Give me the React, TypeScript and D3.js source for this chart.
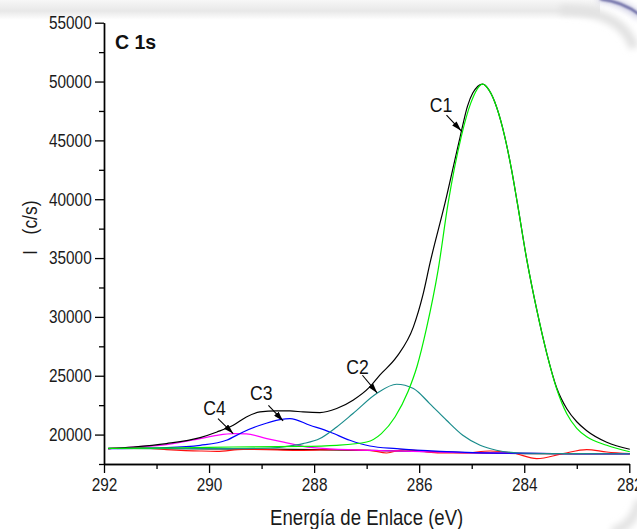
import React, { useEffect, useRef } from 'react';
import * as d3 from 'd3';

const W = 637;
const H = 529;

// Axis ticks
const xMajor = [292, 290, 288, 286, 284, 282];
const xMinor = [291, 289, 287, 285, 283];
const yMajor = [20000, 25000, 30000, 35000, 40000, 45000, 50000, 55000];
const yMinor = [17500, 22500, 27500, 32500, 37500, 42500, 47500, 52500];

// Envelope (black)
const envEV = [291.92, 291.44, 290.81, 290.17, 289.85, 289.54, 289.29, 289.03, 288.72, 288.46, 288.21, 287.89, 287.57, 287.26, 286.94, 286.75, 286.43, 286.11, 285.93, 285.79, 285.51, 285.22, 285.08, 284.98, 284.79, 284.67, 284.37, 284.24, 284.13, 283.95, 283.76, 283.57, 283.38, 283.19, 283.0, 282.81, 282.43, 281.99];
const envI = [18810, 18946, 19235, 19745, 20221, 20791, 21497, 21922, 22007, 22007, 21922, 21871, 22211, 22917, 24047, 25049, 26598, 29149, 31845, 34651, 39642, 45305, 47916, 49021, 49786, 49277, 45305, 42473, 39642, 34821, 30569, 26887, 23937, 22194, 21088, 20323, 19345, 18750];

// C1 (green)
const c1EV = [291.92, 290.5, 289.54, 288.27, 287.57, 287.0, 286.72, 286.46, 286.21, 286.04, 285.86, 285.64, 285.45, 285.2, 285.02, 284.79, 284.67, 284.37, 284.24, 284.13, 283.95, 283.76, 283.57, 283.38, 283.19, 283.0, 282.81, 282.43, 281.99];
const c1I = [18835, 18880, 18946, 18990, 19090, 19371, 20085, 21497, 23682, 25807, 29039, 33970, 39642, 45305, 48145, 49786, 49277, 45305, 42473, 39642, 34821, 30569, 26887, 23852, 21769, 20536, 19813, 19090, 18537];

// C2 (teal)
const c2EV = [291.92, 289.5, 288.84, 288.52, 288.21, 287.89, 287.57, 287.26, 286.81, 286.43, 286.11, 285.8, 285.48, 285.17, 284.84, 284.53, 284.08, 283.0, 281.99];
const c2I = [18830, 18800, 18860, 19005, 19235, 19660, 20646, 21786, 23486, 24277, 23911, 22636, 21216, 19940, 19090, 18665, 18435, 18375, 18370];

// C3 (blue)
const c3EV = [291.92, 290.81, 290.17, 289.67, 289.35, 289.03, 288.65, 288.46, 288.08, 287.7, 287.32, 286.94, 286.43, 285.6, 284.5, 283.0, 281.99];
const c3I = [18810, 18895, 19090, 19515, 20221, 20791, 21275, 21360, 20791, 20221, 19515, 19031, 18810, 18580, 18430, 18370, 18370];

// C4 (magenta)
const c4EV = [291.92, 291.44, 290.81, 290.17, 289.85, 289.54, 289.29, 288.9, 288.65, 288.52, 288.21, 287.7, 286.5, 285.0, 283.0, 281.99];
const c4I = [18810, 18946, 19150, 19660, 19940, 20085, 20068, 19660, 19420, 19300, 19005, 18793, 18620, 18450, 18370, 18370];

// Background (black baseline)
const bgEV = [291.92, 290, 289, 288, 287, 286, 285, 284, 283, 281.99];
const bgI = [18827, 18793, 18767, 18725, 18665, 18580, 18452, 18384, 18367, 18367];

// Residual-like trace (red)
const resEV = [291.92, 291.44, 290.81, 290.17, 289.85, 289.35, 288.9, 288.4, 288.21, 287.57, 286.94, 286.62, 286.3, 285.99, 285.6, 285.16, 284.65, 284.21, 283.76, 283.26, 282.81, 282.43, 281.99];
const resI = [18810, 18895, 18725, 18606, 18580, 18750, 18725, 18665, 18665, 18725, 18665, 18435, 18725, 18606, 18435, 18435, 18606, 18435, 17959, 18384, 18725, 18520, 18384];

// Annotations: label, text anchor (eV, I), arrow tail, arrow tip
const annLabels = ['C1', 'C2', 'C3', 'C4'];
const annTextEV = [285.8, 287.39, 289.22, 290.11];
const annTextI = [47431, 25187, 22917, 21641];
const annTailEV = [285.48, 287.08, 288.87, 289.83];
const annTailI = [47150, 25042, 22492, 21360];
const annTipEV = [285.2, 286.8, 288.59, 289.54];
const annTipI = [45815, 23537, 21156, 20085];

const SANS = "'Liberation Sans', Arial, sans-serif";
const SQ = 0.83; // horizontal condensing of the narrow labels

const series = [
  { ev: bgEV, v: bgI, color: '#000000', w: 1.3 },
  { ev: resEV, v: resI, color: '#ff1010', w: 1.2 },
  { ev: c4EV, v: c4I, color: '#ff00ff', w: 1.2 },
  { ev: c3EV, v: c3I, color: '#0000ff', w: 1.2 },
  { ev: c2EV, v: c2I, color: '#1a8c8c', w: 1.2 },
  { ev: envEV, v: envI, color: '#000000', w: 1.2 },
  { ev: c1EV, v: c1I, color: '#00ee00', w: 1.2 },
];

export default function App() {
  const xAxRef = useRef<SVGGElement>(null);
  const xMinRef = useRef<SVGGElement>(null);
  const yAxRef = useRef<SVGGElement>(null);
  const yMinRef = useRef<SVGGElement>(null);

  const x = d3.scaleLinear().domain([292, 282]).range([104, 629.3]);
  const y = d3.scaleLinear().domain([17500, 55000]).range([464, 22.7]);

  useEffect(() => {
    const fmt = d3.format('d');
    const style = (g: any) => {
      g.selectAll('path.domain').attr('stroke', '#000').attr('stroke-width', 1.4);
      g.selectAll('.tick line').attr('stroke', '#000').attr('stroke-width', 1.3);
      g.selectAll('.tick text')
        .attr('fill', '#1a1a1a')
        .style('font-family', SANS)
        .style('font-size', '18.5px');
    };
    const gx = d3.select(xAxRef.current);
    gx.call(d3.axisBottom(x).tickValues(xMajor).tickSize(9).tickSizeOuter(0).tickPadding(5).tickFormat(fmt as any));
    style(gx);
    gx.selectAll('.tick text').attr('transform', `scale(${SQ},1)`);
    const gxm = d3.select(xMinRef.current);
    gxm.call(d3.axisBottom(x).tickValues(xMinor).tickSize(5).tickSizeOuter(0).tickFormat(() => ''));
    style(gxm);
    const gy = d3.select(yAxRef.current);
    gy.call(d3.axisLeft(y).tickValues(yMajor).tickSize(9).tickSizeOuter(0).tickPadding(3).tickFormat(fmt as any));
    style(gy);
    gy.selectAll('.tick text').attr('x', -12.3 / SQ).attr('transform', `scale(${SQ},1)`);
    const gym = d3.select(yMinRef.current);
    gym.call(d3.axisLeft(y).tickValues(yMinor).tickSize(5).tickSizeOuter(0).tickFormat(() => ''));
    style(gym);
  }, []);

  const line = (ev: number[], v: number[]) =>
    d3
      .line<number>()
      .x((i) => x(ev[i]))
      .y((i) => y(v[i]))
      .curve(d3.curveMonotoneX)(d3.range(ev.length)) as string;

  return (
    <svg
      width={W}
      height={H}
      style={{ position: 'fixed', left: 0, top: 0, background: '#fff' }}
    >
      <defs>
        <linearGradient id="topband" x1="0" y1="0" x2="0" y2="1">
          <stop offset="0" stopColor="#f7f7f7" />
          <stop offset="0.55" stopColor="#e8e8e8" />
          <stop offset="1" stopColor="#ffffff" />
        </linearGradient>
        <filter id="blur4" x="-20%" y="-50%" width="140%" height="200%">
          <feGaussianBlur stdDeviation="3" />
        </filter>
        <filter id="blur1" x="-20%" y="-50%" width="140%" height="200%">
          <feGaussianBlur stdDeviation="0.8" />
        </filter>
        <marker id="arrow" viewBox="0 0 10 6" refX="10" refY="3" markerWidth="10" markerHeight="6" markerUnits="userSpaceOnUse" orient="auto">
          <path d="M0,0 L10,3 L0,6 Z" fill="#000" />
        </marker>
      </defs>

      {/* slide frame decoration */}
      <rect x={0} y={0} width={600} height={20} fill="url(#topband)" />
      <path d="M 560 10 Q 622 10 634 48" fill="none" stroke="#e2e2e2" strokeWidth={10} filter="url(#blur4)" />
      <path d="M 598 -2 Q 624 2 640 17" fill="none" stroke="#c8c8e0" strokeWidth={6} filter="url(#blur4)" />
      <path d="M 600 -1 Q 624 2 640 15" fill="none" stroke="#4a4a90" strokeWidth={2} filter="url(#blur1)" />
      <path d="M 640 500 Q 634 526 612 532" fill="none" stroke="#e4e4e4" strokeWidth={10} filter="url(#blur4)" />

      {/* curves */}
      {series.map((s, k) => (
        <path key={k} d={line(s.ev, s.v)} fill="none" stroke={s.color} strokeWidth={s.w} strokeLinejoin="round" />
      ))}

      {/* axes */}
      <g ref={xMinRef} transform={`translate(0,${y(17500)})`} />
      <g ref={xAxRef} transform={`translate(0,${y(17500)})`} />
      <g ref={yMinRef} transform={`translate(${x(292)},0)`} />
      <g ref={yAxRef} transform={`translate(${x(292)},0)`} />

      {/* annotations */}
      {annLabels.map((lab, i) => (
        <g key={lab}>
          <text
            transform={`translate(${x(annTextEV[i])},${y(annTextI[i])}) scale(0.86,1)`}
            fontFamily={SANS}
            fontSize={20.5}
            fill="#111"
          >
            {lab}
          </text>
          <line
            x1={x(annTailEV[i])}
            y1={y(annTailI[i])}
            x2={x(annTipEV[i])}
            y2={y(annTipI[i])}
            stroke="#000"
            strokeWidth={1.1}
            markerEnd="url(#arrow)"
          />
        </g>
      ))}

      <text x={115} y={49} fontFamily={SANS} fontWeight="bold" fontSize={19.5} fill="#111">
        C 1s
      </text>

      {/* axis titles */}
      <text
        transform={`translate(${x(287)},525) scale(0.845,1)`}
        textAnchor="middle"
        fontFamily={SANS}
        fontSize={22}
        fill="#1a1a1a"
      >
        Energía de Enlace (eV)
      </text>
      <text transform="translate(37,252.5) rotate(-90) scale(0.85,1)" textAnchor="middle" fontFamily={SANS} fontSize={21} fill="#1a1a1a">
        I
      </text>
      <text transform="translate(37,217.5) rotate(-90) scale(0.83,1)" textAnchor="middle" fontFamily={SANS} fontSize={21} fill="#1a1a1a">
        (c/s)
      </text>
    </svg>
  );
}
